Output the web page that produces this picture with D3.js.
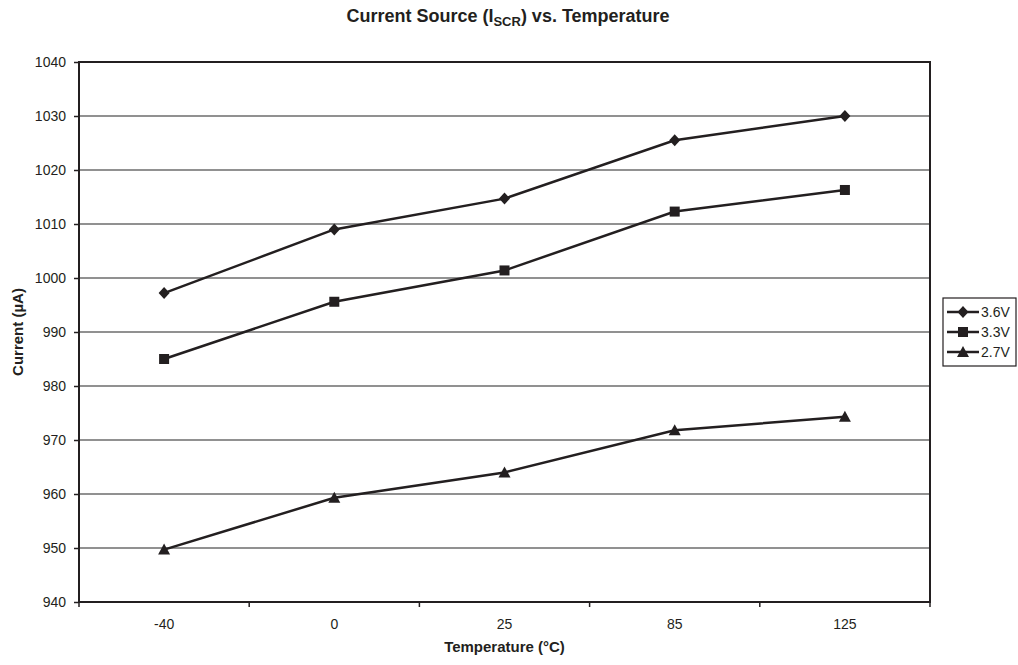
<!DOCTYPE html>
<html>
<head>
<meta charset="utf-8">
<script src="https://cdn.jsdelivr.net/npm/d3@7"></script>
<style>
  body { margin: 0; background: #fff; }
  svg { font-family: "Liberation Sans", Arial, sans-serif; }
</style>
</head>
<body>
<svg id="chart" width="1018" height="665"></svg>
<script>
// chart data
const temps = ["-40", "0", "25", "85", "125"];
const v36 = [997.2, 1009.0, 1014.7, 1025.5, 1030.0];
const v33 = [985.0, 995.6, 1001.4, 1012.3, 1016.3];
const v27 = [949.7, 959.3, 964.0, 971.8, 974.3];
const seriesNames = ["3.6V", "3.3V", "2.7V"];
const yTicks = [940, 950, 960, 970, 980, 990, 1000, 1010, 1020, 1030, 1040];

const series = [
  { name: seriesNames[0], values: v36, marker: "diamond" },
  { name: seriesNames[1], values: v33, marker: "square" },
  { name: seriesNames[2], values: v27, marker: "triangle" },
];

const dims = { left: 79, right: 930, top: 62, bottom: 602 };
const ink = "#231f20";

const svg = d3.select("#chart");

const x = d3.scaleBand().domain(temps).range([dims.left, dims.right]).padding(0);
const y = d3.scaleLinear().domain([940, 1040]).range([dims.bottom, dims.top]);

// gridlines
svg.append("g")
  .selectAll("line")
  .data(yTicks.slice(1, -1))
  .join("line")
  .attr("x1", dims.left)
  .attr("x2", dims.right)
  .attr("y1", (d) => y(d))
  .attr("y2", (d) => y(d))
  .attr("stroke", "#6d6d6d")
  .attr("stroke-width", 1.5);

// y axis
const yAxis = svg.append("g")
  .attr("transform", `translate(${dims.left},0)`)
  .call(d3.axisLeft(y).tickValues(yTicks).tickSize(5).tickPadding(8).tickFormat(d3.format("d")));
yAxis.select(".domain").remove();
yAxis.selectAll("line").attr("stroke", ink).attr("stroke-width", 1.5);
yAxis.selectAll("text").attr("fill", ink).attr("font-size", 14).attr("font-family", "Liberation Sans, Arial, sans-serif");

// x axis: ticks between categories, labels in the middle
const bounds = temps.map((t) => x(t)).concat([dims.right]);
svg.append("g")
  .selectAll("line")
  .data(bounds)
  .join("line")
  .attr("x1", (d) => d)
  .attr("x2", (d) => d)
  .attr("y1", dims.bottom)
  .attr("y2", dims.bottom + 5)
  .attr("stroke", ink)
  .attr("stroke-width", 1.5);
svg.append("g")
  .selectAll("text")
  .data(temps)
  .join("text")
  .attr("x", (d) => x(d) + x.bandwidth() / 2)
  .attr("y", dims.bottom + 27)
  .attr("text-anchor", "middle")
  .attr("font-size", 14)
  .attr("fill", ink)
  .text((d) => d);

// plot frame
svg.append("rect")
  .attr("x", dims.left)
  .attr("y", dims.top)
  .attr("width", dims.right - dims.left)
  .attr("height", dims.bottom - dims.top)
  .attr("fill", "none")
  .attr("stroke", ink)
  .attr("stroke-width", 2);

// markers
function drawMarker(g, type, cx, cy) {
  if (type === "diamond") {
    g.append("path")
      .attr("d", `M${cx},${cy - 6}L${cx + 5.5},${cy}L${cx},${cy + 6}L${cx - 5.5},${cy}Z`)
      .attr("fill", ink);
  } else if (type === "square") {
    g.append("rect")
      .attr("x", cx - 5).attr("y", cy - 5)
      .attr("width", 10).attr("height", 10)
      .attr("fill", ink);
  } else {
    g.append("path")
      .attr("d", `M${cx},${cy - 6}L${cx + 6},${cy + 5}L${cx - 6},${cy + 5}Z`)
      .attr("fill", ink);
  }
}

const line = d3.line()
  .x((d, i) => x(temps[i]) + x.bandwidth() / 2)
  .y((d) => y(d));

const gSeries = svg.append("g");
series.forEach((s) => {
  gSeries.append("path")
    .attr("d", line(s.values))
    .attr("fill", "none")
    .attr("stroke", ink)
    .attr("stroke-width", 2.5);
  s.values.forEach((v, i) => {
    drawMarker(gSeries, s.marker, x(temps[i]) + x.bandwidth() / 2, y(v));
  });
});

// legend
const lg = svg.append("g").attr("transform", "translate(943,298)");
lg.append("rect")
  .attr("width", 73)
  .attr("height", 68)
  .attr("fill", "#fff")
  .attr("stroke", ink)
  .attr("stroke-width", 1.2);
series.forEach((s, i) => {
  const cy = 14 + i * 20;
  lg.append("line")
    .attr("x1", 4).attr("x2", 36)
    .attr("y1", cy).attr("y2", cy)
    .attr("stroke", ink).attr("stroke-width", 2.5);
  drawMarker(lg, s.marker, 20, cy);
  lg.append("text")
    .attr("x", 38)
    .attr("y", cy)
    .attr("dy", "0.35em")
    .attr("font-size", 14)
    .attr("fill", ink)
    .text(s.name);
});

// title
const title = svg.append("text")
  .attr("x", 508)
  .attr("y", 22)
  .attr("text-anchor", "middle")
  .attr("font-size", 18)
  .attr("font-weight", "bold")
  .attr("fill", ink);
title.append("tspan").text("Current Source (I");
title.append("tspan").attr("font-size", 13).attr("dy", 4).text("SCR");
title.append("tspan").attr("dy", -4).text(") vs. Temperature");

// axis titles
svg.append("text")
  .attr("x", (dims.left + dims.right) / 2)
  .attr("y", 652)
  .attr("text-anchor", "middle")
  .attr("font-size", 15)
  .attr("font-weight", "bold")
  .attr("fill", ink)
  .text("Temperature (°C)");

svg.append("text")
  .attr("transform", `translate(23,${(dims.top + dims.bottom) / 2}) rotate(-90)`)
  .attr("text-anchor", "middle")
  .attr("font-size", 15)
  .attr("font-weight", "bold")
  .attr("fill", ink)
  .text("Current (µA)");
</script>
</body>
</html>
